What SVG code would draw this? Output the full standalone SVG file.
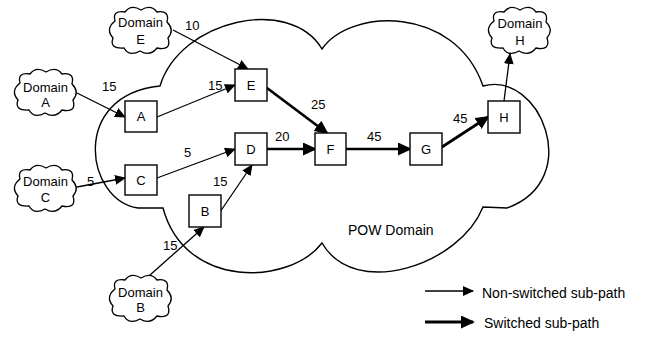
<svg xmlns="http://www.w3.org/2000/svg" xmlns:xlink="http://www.w3.org/1999/xlink" width="646" height="337" viewBox="0 0 646 337">
<style>
text{font-family:"Liberation Sans",Arial,sans-serif;fill:#000}
.t13{font-size:13px}
.t14{font-size:14px}
.c{text-anchor:middle}
.outline{fill:none;stroke:#000;stroke-width:1.4}
.cloud{fill:#fff;stroke:#000;stroke-width:1.3}
.box{fill:#fff;stroke:#000;stroke-width:1.4}
.thin{fill:none;stroke:#000;stroke-width:1.3;marker-end:url(#ah)}
.thick{fill:none;stroke:#000;stroke-width:2.7;marker-end:url(#ahb)}
</style>
<defs>
<marker id="ah" markerUnits="userSpaceOnUse" markerWidth="11" markerHeight="10" refX="10" refY="5" orient="auto"><path d="M0,0 L11,5 L0,10 Z" fill="#000"/></marker>
<marker id="ahb" markerUnits="userSpaceOnUse" markerWidth="14" markerHeight="13" refX="12" refY="6.5" orient="auto"><path d="M0,0 L14,6.5 L0,13 Z" fill="#000"/></marker>
<path id="cloud" d="M6 15 Q3 4 16 6 Q22 -2 32 4 Q42 -2 48 6 Q61 4 58 16 Q66 24 59 32 Q63 45 48 42 Q41 51 31 45 Q20 51 15 42 Q0 43 4 32 Q-4 23 6 15 Z"/>
</defs>
<g id="pow-domain">
<path class="outline" d="M160 86 C180 20 290 -5 322 49 C350 8 455 5 483 86 C540 70 585 180 507 208 L483 207 C460 265 355 300 322 243 C290 285 185 290 163 208 L138 208 C85 200 70 95 160 86 Z"/>
<text class="t14" x="348" y="235">POW Domain</text>
</g>
<g id="connectors">
<path class="thin" d="M173 30 L248 69"/>
<path class="thin" d="M77 93 L125 117"/>
<path class="thin" d="M157 117 L235 85"/>
<path class="thick" d="M267 88 L327 133"/>
<path class="thick" d="M267 149 L315 149"/>
<path class="thick" d="M346 149 L410 149"/>
<path class="thick" d="M442 147 L488 117"/>
<path class="thin" d="M504 101 L510 54"/>
<path class="thin" d="M157 178 L235 149"/>
<path class="thin" d="M77 187 L125 178"/>
<path class="thin" d="M220 212 L252 165"/>
<path class="thin" d="M150 275 L204 227"/>
<text class="t13" x="185" y="30">10</text>
<text class="t13" x="102" y="91">15</text>
<text class="t13" x="208" y="90">15</text>
<text class="t13" x="311" y="109">25</text>
<text class="t13" x="275" y="141">20</text>
<text class="t13" x="184" y="157">5</text>
<text class="t13" x="367" y="141">45</text>
<text class="t13" x="453" y="123">45</text>
<text class="t13" x="87" y="186">5</text>
<text class="t13" x="213" y="186">15</text>
<text class="t13" x="163" y="250">15</text>
</g>
<g id="domain-E"><use xlink:href="#cloud" class="cloud" transform="translate(109,6)"/><text class="t13 c" x="140.5" y="27">Domain</text><text class="t13 c" x="140.5" y="44">E</text></g>
<g id="domain-A"><use xlink:href="#cloud" class="cloud" transform="translate(14,68)"/><text class="t13 c" x="45.5" y="92">Domain</text><text class="t13 c" x="45.5" y="107">A</text></g>
<g id="domain-C"><use xlink:href="#cloud" class="cloud" transform="translate(14,164)"/><text class="t13 c" x="45.5" y="186">Domain</text><text class="t13 c" x="45.5" y="202">C</text></g>
<g id="domain-B"><use xlink:href="#cloud" class="cloud" transform="translate(109,274)"/><text class="t13 c" x="140.5" y="297">Domain</text><text class="t13 c" x="140.5" y="312">B</text></g>
<g id="domain-H"><use xlink:href="#cloud" class="cloud" transform="translate(488,6)"/><text class="t13 c" x="520" y="28">Domain</text><text class="t13 c" x="520" y="45">H</text></g>
<g id="node-E"><rect class="box" x="235" y="69" width="32" height="32"/><text class="t13 c" x="251" y="90">E</text></g>
<g id="node-A"><rect class="box" x="125" y="101" width="32" height="31"/><text class="t13 c" x="141" y="121">A</text></g>
<g id="node-D"><rect class="box" x="235" y="133" width="32" height="32"/><text class="t13 c" x="251" y="154">D</text></g>
<g id="node-F"><rect class="box" x="315" y="133" width="31" height="32"/><text class="t13 c" x="330.5" y="154">F</text></g>
<g id="node-G"><rect class="box" x="410" y="133" width="32" height="32"/><text class="t13 c" x="426" y="154">G</text></g>
<g id="node-H"><rect class="box" x="488" y="101" width="32" height="32"/><text class="t13 c" x="504" y="122">H</text></g>
<g id="node-C"><rect class="box" x="125" y="165" width="32" height="30"/><text class="t13 c" x="141" y="185">C</text></g>
<g id="node-B"><rect class="box" x="189" y="195" width="32" height="32"/><text class="t13 c" x="205" y="216">B</text></g>
<g id="legend">
<path class="thin" d="M425 291 L473 291"/>
<text class="t14" x="482" y="298">Non-switched sub-path</text>
<path class="thick" d="M425 322 L473 322" style="stroke-width:3.2"/>
<text class="t14" x="484" y="328">Switched sub-path</text>
</g>
</svg>
